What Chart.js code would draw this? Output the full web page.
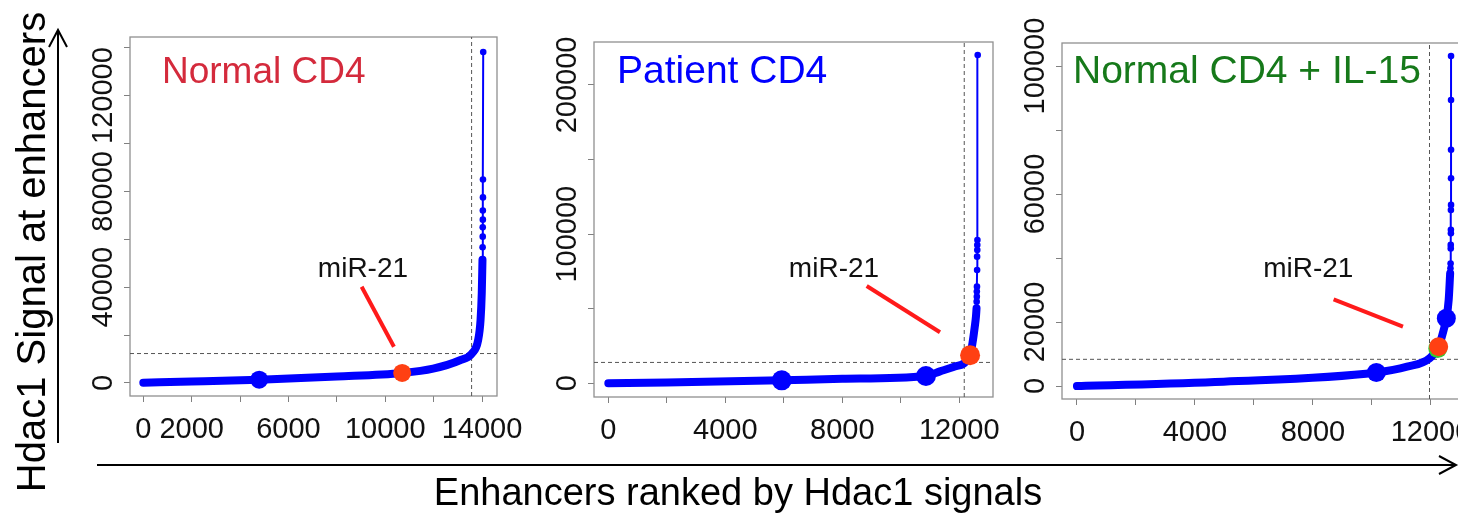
<!DOCTYPE html>
<html>
<head>
<meta charset="utf-8">
<script src="https://cdn.jsdelivr.net/npm/chart.js@4.4.1/dist/chart.umd.min.js"></script>
<style>
  html, body { margin: 0; padding: 0; background: #fff; }
  #wrap { position: relative; width: 1476px; height: 515px; overflow: hidden; }
  .panel { position: absolute; top: 0; height: 470px; overflow: hidden; }
  .panel canvas { position: absolute; left: 0; top: 0; }
  svg { position: absolute; left: 0; top: 0; font-family: "Liberation Sans", Arial, sans-serif; }
</style>
</head>
<body>
<div id="wrap">
  <div class="panel" style="left:60px;width:470px"><canvas id="c1" width="470" height="470"></canvas></div>
  <div class="panel" style="left:540px;width:480px"><canvas id="c2" width="480" height="470"></canvas></div>
  <div class="panel" style="left:1010px;width:448px"><canvas id="c3" width="480" height="470"></canvas></div>
  <svg width="1476" height="515">
    <!-- axis arrows -->
    <line x1="58" y1="443" x2="58" y2="31" stroke="#000" stroke-width="2"/>
    <polyline points="49,47 58,30 67,47" fill="none" stroke="#000" stroke-width="2"/>
    <line x1="97" y1="465" x2="1454" y2="465" stroke="#000" stroke-width="2"/>
    <polyline points="1439,456 1456,465 1439,474" fill="none" stroke="#000" stroke-width="2"/>
    <text transform="translate(45,252) rotate(-90)" text-anchor="middle" font-size="40" fill="#000">Hdac1 Signal at enhancers</text>
    <text x="738" y="505" text-anchor="middle" font-size="38" fill="#000">Enhancers ranked by Hdac1 signals</text>
    <!-- panel titles -->
    <text x="162" y="83" font-size="37" fill="#d42a3c">Normal CD4</text>
    <text x="617" y="83" font-size="39" fill="#0000ff">Patient CD4</text>
    <text x="1073" y="83" font-size="39" fill="#16791a">Normal CD4 + IL-15</text>
  </svg>
</div>
<script>
// ============================
// Normal CD4
// ============================
const normalRank   = [0, 2000, 4790, 8000, 10700, 11980, 13090, 13580, 13840, 13940, 13990, 14020];
const normalSignal = [100, 600, 1400, 2700, 4200, 6000, 9500, 12300, 17900, 26300, 37500, 51500];
const normalTopRank   = [14020, 14025, 14030, 14030, 14035, 14035, 14040, 14040, 14050];
const normalTopSignal = [51500, 56700, 61100, 65000, 68200, 72000, 77500, 85000, 138200];
const normalBlueRank = [4790];
const normalBlueSignal = [1400];
const normalMirRank = [10700];
const normalMirSignal = [4200];
const normalCut = [13570, 12300]; // rank, signal
const normalXTicks = [0, 2000, 4000, 6000, 8000, 10000, 12000, 14000];
const normalXLabels = [0, 2000, 6000, 10000, 14000];
const normalYTicks = [0, 20000, 40000, 60000, 80000, 100000, 120000, 140000];
const normalYLabels = [0, 40000, 80000, 120000];
const normalXRange = [-550, 14620];
const normalYRange = [-5430, 144470];
const normalPointerRank = [9025, 10360];
const normalPointerSignal = [40200, 15150];
const normalNoteAt = [9080, 44300];

// ============================
// Patient CD4
// ============================
const patientRank   = [0, 2000, 5930, 8000, 10860, 11340, 11800, 12370, 12450, 12530, 12570, 12590];
const patientSignal = [0, 500, 2000, 3000, 4900, 8000, 11000, 18800, 26800, 38000, 44700, 50300];
const patientTopRank   = [12590, 12595, 12600, 12600, 12605, 12610, 12610, 12615, 12615, 12620, 12630];
const patientTopSignal = [50300, 54750, 58100, 61500, 64800, 76000, 84900, 89400, 92750, 96100, 220100];
const patientBlueRank = [5930, 10860];
const patientBlueSignal = [2000, 4900];
const patientMirRank = [12370];
const patientMirSignal = [18800];
const patientCut = [12170, 14000];
const patientXTicks = [0, 2000, 4000, 6000, 8000, 10000, 12000];
const patientXLabels = [0, 4000, 8000, 12000];
const patientYTicks = [0, 50000, 100000, 150000, 200000];
const patientYLabels = [0, 100000, 200000];
const patientXRange = [-489, 13153];
const patientYRange = [-9180, 228810];
const patientPointerRank = [8835, 11340];
const patientPointerSignal = [65230, 34190];
const patientNoteAt = [7716, 71270];

// ============================
// Normal CD4 + IL-15
// ============================
const il15Rank   = [0, 4970, 10150, 11190, 11950, 12260, 12430, 12520, 12600, 12650];
const il15Signal = [0, 1350, 4200, 6040, 8650, 12300, 17500, 21150, 26900, 35200];
const il15TopRank   = [12650, 12660, 12665, 12670, 12670, 12675, 12675, 12675, 12680, 12680, 12680, 12680, 12680];
const il15TopSignal = [35200, 36800, 38300, 43000, 44100, 47700, 48800, 55000, 56600, 64900, 73800, 89400, 103100];
const il15BlueRank = [10150, 12520];
const il15BlueSignal = [4200, 21150];
const il15MirRank = [12260];
const il15MirSignal = [12300];
const il15CoRank = [12230];     // green dot sitting under miR-21
const il15CoSignal = [11700];
const il15Cut = [11950, 8340];
const il15XTicks = [0, 2000, 4000, 6000, 8000, 10000, 12000];
const il15XLabels = [0, 4000, 8000, 12000];
const il15YTicks = [0, 20000, 40000, 60000, 80000, 100000];
const il15YLabels = [0, 20000, 60000, 100000];
const il15XRange = [-507, 13187];
const il15YRange = [-4060, 107190];
const il15PointerRank = [8700, 11050];
const il15PointerSignal = [27090, 18530];
const il15NoteAt = [7840, 34060];

const BLUE = "#0000ff";
const ORANGE = "#ff4013";
const FONT = "'Liberation Sans', Arial, sans-serif";

const pts = (xs, ys) => xs.map((x, i) => ({ x: x, y: ys[i] }));

// box, y labels and the miR-21 note
const panelDecor = {
  id: "panelDecor",
  beforeDatasetsDraw(chart) {
    const a = chart.chartArea;
    const ctx = chart.ctx;
    ctx.save();
    ctx.strokeStyle = "#909090";
    ctx.lineWidth = 1.3;
    ctx.strokeRect(a.left, a.top, a.right - a.left, a.bottom - a.top);
    ctx.restore();
  },
  afterDraw(chart, args, opts) {
    const ctx = chart.ctx;
    const a = chart.chartArea;
    const sy = chart.scales.y, sx = chart.scales.x;
    ctx.save();
    ctx.fillStyle = "#111";
    ctx.font = "29px " + FONT;
    ctx.textAlign = "center";
    ctx.textBaseline = "middle";
    opts.yLabels.forEach(v => {
      ctx.save();
      ctx.translate(a.left - 26, sy.getPixelForValue(v));
      ctx.rotate(-Math.PI / 2);
      ctx.fillText(String(v), 0, 0);
      ctx.restore();
    });
    ctx.font = "28px " + FONT;
    ctx.textBaseline = "alphabetic";
    ctx.fillText("miR-21", sx.getPixelForValue(opts.noteAt[0]), sy.getPixelForValue(opts.noteAt[1]));
    ctx.restore();
  }
};

function makePanel(id, p) {
  const datasets = [
    {
      data: [{ x: p.xRange[0], y: p.cut[1] }, { x: p.xRange[1], y: p.cut[1] }],
      borderColor: "#555", borderWidth: 1, borderDash: [4, 3], pointRadius: 0, order: 10
    },
    {
      data: [{ x: p.cut[0], y: p.yRange[0] }, { x: p.cut[0], y: p.yRange[1] }],
      borderColor: "#555", borderWidth: 1, borderDash: [4, 3], pointRadius: 0, order: 10
    },
    {
      data: pts(p.rank, p.signal),
      borderColor: BLUE, borderWidth: 8, pointRadius: 0,
      cubicInterpolationMode: "monotone", borderCapStyle: "round", borderJoinStyle: "round", order: 6
    },
    {
      data: pts(p.topRank, p.topSignal),
      borderColor: BLUE, borderWidth: 2, pointRadius: 3.3,
      pointBackgroundColor: BLUE, pointBorderWidth: 0, order: 5
    },
    {
      data: pts(p.pointerRank, p.pointerSignal),
      borderColor: "#ff1a1a", borderWidth: 4, pointRadius: 0, order: 4
    },
    {
      data: pts(p.blueRank, p.blueSignal), showLine: false,
      pointRadius: p.dot, pointBackgroundColor: BLUE, pointBorderWidth: 0, order: 2
    },
    {
      data: pts(p.mirRank, p.mirSignal), showLine: false,
      pointRadius: p.dot, pointBackgroundColor: ORANGE, pointBorderWidth: 0, order: 1
    }
  ];
  if (p.coRank) {
    datasets.push({
      data: pts(p.coRank, p.coSignal), showLine: false,
      pointRadius: p.dot, pointBackgroundColor: "#33cc33", pointBorderWidth: 0, order: 3
    });
  }

  new Chart(document.getElementById(id), {
    type: "line",
    data: { datasets: datasets },
    plugins: [panelDecor],
    options: {
      responsive: false,
      devicePixelRatio: 1,
      animation: false,
      events: [],
      layout: { padding: { left: 0, top: p.box.top, right: p.canvasLeft + p.canvasW - p.box.right, bottom: 0 } },
      plugins: {
        legend: { display: false },
        tooltip: { enabled: false },
        panelDecor: { yLabels: p.yLabels, noteAt: p.noteAt }
      },
      scales: {
        x: {
          type: "linear",
          min: p.xRange[0],
          max: p.xRange[1],
          afterBuildTicks: s => { s.ticks = p.xTicks.map(v => ({ value: v })); },
          afterFit: s => {
            s.height = 470 - p.box.bottom;
            s.paddingLeft = 0;
            s.paddingRight = 0;
          },
          grid: { drawOnChartArea: false, drawTicks: true, tickLength: 6, color: "#808080" },
          border: { display: false },
          ticks: {
            autoSkip: false, maxRotation: 0, padding: 11, color: "#111",
            font: { family: FONT, size: 29 },
            callback: v => (p.xLabels.includes(v) ? String(v) : "")
          }
        },
        y: {
          type: "linear",
          min: p.yRange[0],
          max: p.yRange[1],
          afterBuildTicks: s => { s.ticks = p.yTicks.map(v => ({ value: v })); },
          afterFit: s => {
            s.width = p.box.left - p.canvasLeft;
            s.paddingTop = 0;
            s.paddingBottom = 0;
          },
          grid: { drawOnChartArea: false, drawTicks: true, tickLength: 6, color: "#808080" },
          border: { display: false },
          ticks: { display: false }
        }
      }
    }
  });
}

makePanel("c1", {
  rank: normalRank, signal: normalSignal, topRank: normalTopRank, topSignal: normalTopSignal,
  blueRank: normalBlueRank, blueSignal: normalBlueSignal, mirRank: normalMirRank, mirSignal: normalMirSignal,
  cut: normalCut, xTicks: normalXTicks, xLabels: normalXLabels, yTicks: normalYTicks, yLabels: normalYLabels,
  xRange: normalXRange, yRange: normalYRange,
  pointerRank: normalPointerRank, pointerSignal: normalPointerSignal, noteAt: normalNoteAt,
  dot: 9, canvasLeft: 60, canvasW: 470, box: { left: 130, right: 497, top: 37, bottom: 396 }
});

makePanel("c2", {
  rank: patientRank, signal: patientSignal, topRank: patientTopRank, topSignal: patientTopSignal,
  blueRank: patientBlueRank, blueSignal: patientBlueSignal, mirRank: patientMirRank, mirSignal: patientMirSignal,
  cut: patientCut, xTicks: patientXTicks, xLabels: patientXLabels, yTicks: patientYTicks, yLabels: patientYLabels,
  xRange: patientXRange, yRange: patientYRange,
  pointerRank: patientPointerRank, pointerSignal: patientPointerSignal, noteAt: patientNoteAt,
  dot: 10, canvasLeft: 540, canvasW: 480, box: { left: 594, right: 993, top: 42, bottom: 397 }
});

makePanel("c3", {
  rank: il15Rank, signal: il15Signal, topRank: il15TopRank, topSignal: il15TopSignal,
  blueRank: il15BlueRank, blueSignal: il15BlueSignal, mirRank: il15MirRank, mirSignal: il15MirSignal,
  coRank: il15CoRank, coSignal: il15CoSignal,
  cut: il15Cut, xTicks: il15XTicks, xLabels: il15XLabels, yTicks: il15YTicks, yLabels: il15YLabels,
  xRange: il15XRange, yRange: il15YRange,
  pointerRank: il15PointerRank, pointerSignal: il15PointerSignal, noteAt: il15NoteAt,
  dot: 9.5, canvasLeft: 1010, canvasW: 480, box: { left: 1062, right: 1466, top: 43, bottom: 399 }
});
</script>
</body>
</html>
